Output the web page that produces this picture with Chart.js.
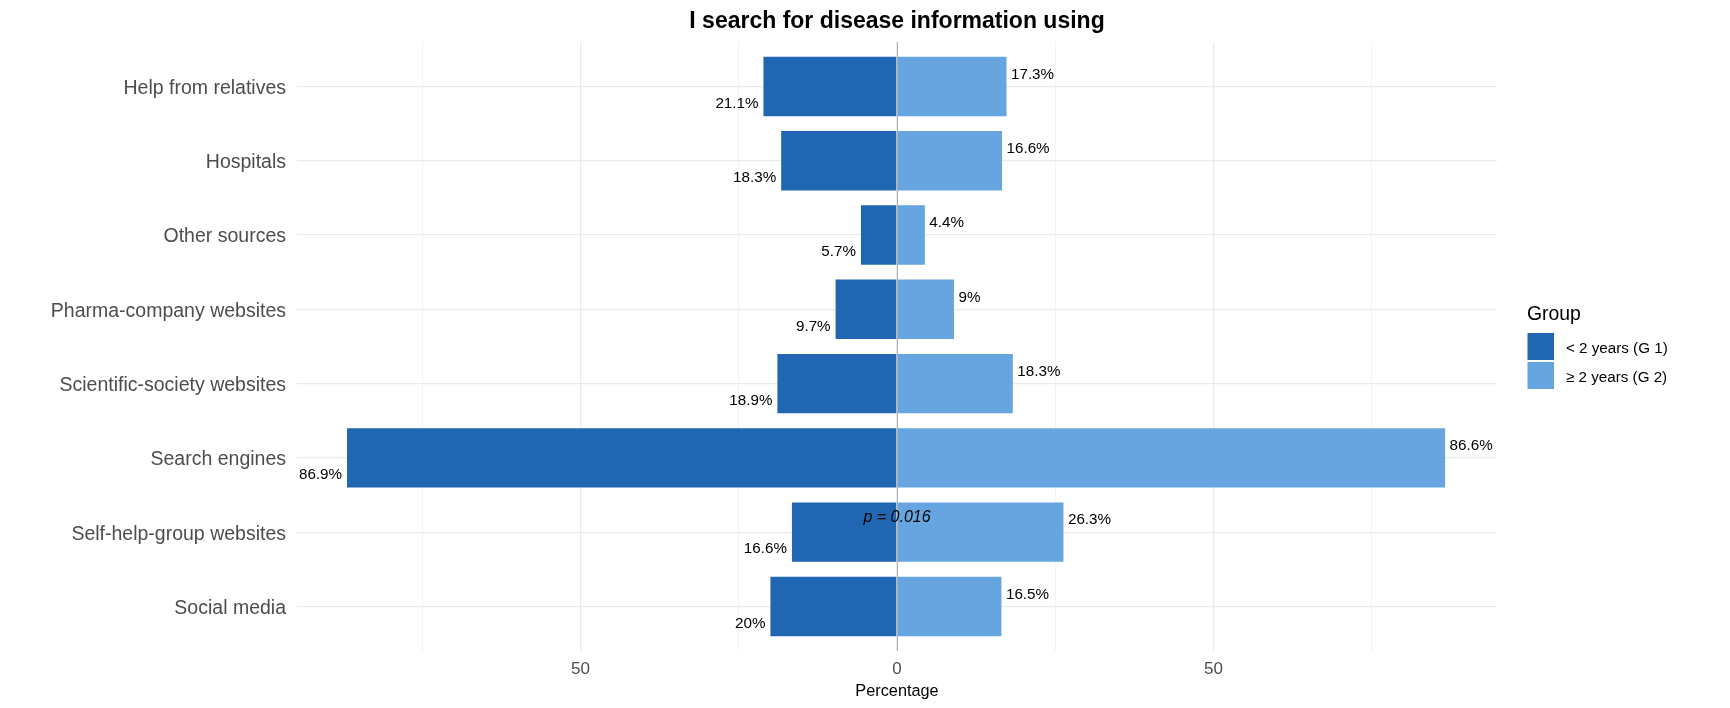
<!DOCTYPE html>
<html>
<head>
<meta charset="utf-8">
<script src="https://cdn.jsdelivr.net/npm/chart.js@4.4.1/dist/chart.umd.min.js"></script>
<style>
  html, body { margin: 0; padding: 0; background: #fff; }
  #wrap { width: 1730px; height: 708px; position: relative; }
</style>
</head>
<body>
<div id="wrap"><canvas id="myChart"></canvas></div>
<script>
// data
const categories = [
    'Help from relatives',
    'Hospitals',
    'Other sources',
    'Pharma-company websites',
    'Scientific-society websites',
    'Search engines',
    'Self-help-group websites',
    'Social media'
];
const g1Values = [21.1, 18.3, 5.7, 9.7, 18.9, 86.9, 16.6, 20];   // < 2 years, drawn to the left
const g2Values = [17.3, 16.6, 4.4, 9, 18.3, 86.6, 26.3, 16.5];   // >= 2 years, drawn to the right
const pValues = [null, null, null, null, null, null, '0.016', null];
const seriesNames = ['< 2 years (G 1)', '≥ 2 years (G 2)'];
const xTicks = [-75, -50, -25, 0, 25, 50, 75];
const xTickLabels = ['', '50', '', '0', '', '50', ''];

const colors = ['#2166b2', '#66a5df'];
const FONT = "'Liberation Sans', Arial, sans-serif";
Chart.defaults.font.family = FONT;

// labels, zero line, p-value and legend
const overlay = {
    id: 'overlay',
    afterDatasetsDraw(chart) {
        const ctx = chart.ctx;
        const area = chart.chartArea;
        const x0 = chart.scales.x.getPixelForValue(0);

        ctx.save();
        ctx.strokeStyle = '#b0b0b0';
        ctx.lineWidth = 1;
        ctx.beginPath();
        ctx.moveTo(Math.round(x0) + 0.5, area.top);
        ctx.lineTo(Math.round(x0) + 0.5, area.bottom);
        ctx.stroke();

        ctx.fillStyle = '#000';
        ctx.textBaseline = 'middle';
        ctx.font = '15.2px ' + FONT;
        chart.getDatasetMeta(0).data.forEach((bar, i) => {
            ctx.textAlign = 'right';
            ctx.fillText(g1Values[i] + '%', bar.x - 5, bar.y + 17);
        });
        chart.getDatasetMeta(1).data.forEach((bar, i) => {
            ctx.textAlign = 'left';
            ctx.fillText(g2Values[i] + '%', bar.x + 4.5, bar.y - 12);
        });

        ctx.font = 'italic 16px ' + FONT;
        ctx.textAlign = 'center';
        chart.getDatasetMeta(1).data.forEach((bar, i) => {
            if (pValues[i] !== null) ctx.fillText('p = ' + pValues[i], x0, bar.y - 15);
        });
        ctx.restore();
    },
    afterDraw(chart) {
        const ctx = chart.ctx;
        ctx.save();
        ctx.textBaseline = 'middle';
        ctx.textAlign = 'left';
        ctx.fillStyle = '#000';
        ctx.font = '19.4px ' + FONT;
        ctx.fillText('Group', 1527, 315);
        ctx.font = '15.2px ' + FONT;
        seriesNames.forEach((name, i) => {
            ctx.fillStyle = colors[i];
            ctx.fillRect(1527.5, 333 + i * 29, 26.5, 27);
            ctx.fillStyle = '#000';
            ctx.fillText(name, 1566, 348.5 + i * 29);
        });
        ctx.restore();
    }
};

const ctx = document.getElementById('myChart').getContext('2d');
new Chart(ctx, {
    type: 'bar',
    data: {
        datasets: [
            {
                label: seriesNames[0],
                data: g1Values.map((v, i) => ({ x: -v, y: i })),
                backgroundColor: colors[0]
            },
            {
                label: seriesNames[1],
                data: g2Values.map((v, i) => ({ x: v, y: i })),
                backgroundColor: colors[1]
            }
        ]
    },
    options: {
        indexAxis: 'y',
        responsive: true,
        maintainAspectRatio: false,
        animation: false,
        events: [],
        grouped: false,
        barPercentage: 0.8,
        categoryPercentage: 1,
        layout: { padding: { left: 0, right: 233, top: 0, bottom: 0 } },
        scales: {
            x: {
                type: 'linear',
                min: -94.8,
                max: 94.8,
                afterBuildTicks: s => { s.ticks = xTicks.map(v => ({ value: v })); },
                afterFit: s => { s.height = 57; },
                ticks: {
                    callback: v => xTickLabels[xTicks.indexOf(v)],
                    color: '#4d4d4d',
                    font: { size: 17 },
                    padding: 8,
                    maxRotation: 0,
                    autoSkip: false
                },
                grid: {
                    drawTicks: false,
                    color: c => (c.tick && c.tick.value % 50 === 0) ? '#ebebeb' : '#f3f3f3',
                    lineWidth: c => (c.tick && c.tick.value % 50 === 0) ? 1.3 : 1
                },
                border: { display: false },
                title: {
                    display: true,
                    text: 'Percentage',
                    color: '#000',
                    font: { size: 16.3 },
                    padding: { top: 0, bottom: 7 }
                }
            },
            y: {
                type: 'linear',
                reverse: true,
                offset: false,
                min: -0.6,
                max: 7.6,
                afterBuildTicks: s => { s.ticks = categories.map((c, i) => ({ value: i })); },
                afterFit: s => { s.width = 297; },
                ticks: {
                    callback: v => categories[v],
                    color: '#4d4d4d',
                    font: { size: 19.5 },
                    padding: 11,
                    labelOffset: 2,
                    autoSkip: false
                },
                grid: { offset: false, drawTicks: false, color: '#ebebeb', lineWidth: 1.3 },
                border: { display: false }
            }
        },
        plugins: {
            legend: { display: false },
            tooltip: { enabled: false },
            title: {
                display: true,
                fullSize: false,
                text: 'I search for disease information using',
                color: '#000',
                font: { size: 23, weight: 'bold' },
                padding: { top: 8, bottom: 6.3 }
            }
        }
    },
    plugins: [overlay]
});
</script>
</body>
</html>
